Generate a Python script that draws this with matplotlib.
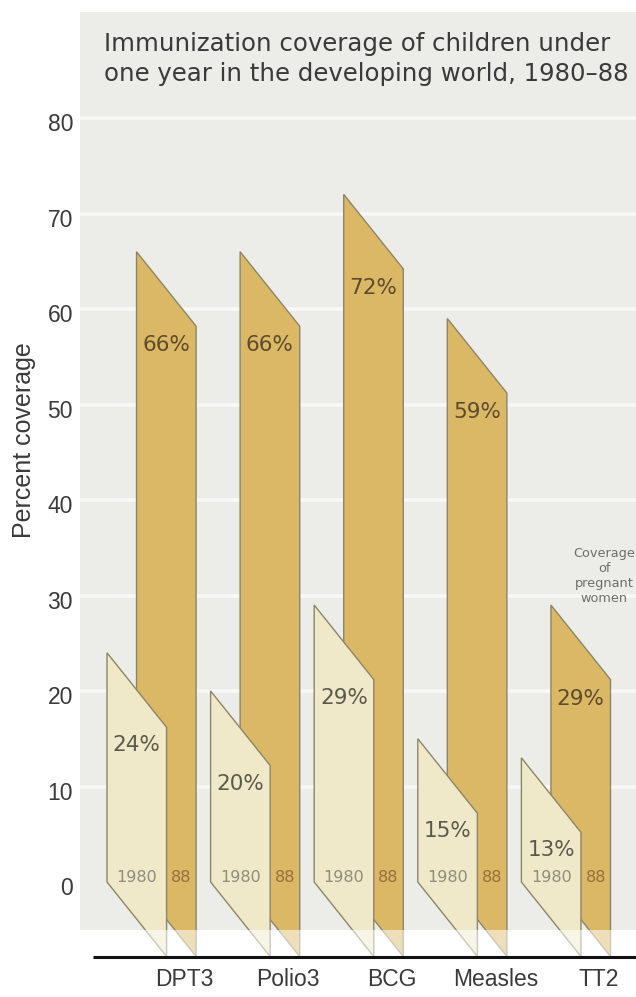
import matplotlib
matplotlib.use("Agg")
import matplotlib.pyplot as plt
from matplotlib.patches import Polygon, Rectangle
from matplotlib.transforms import ScaledTranslation

# ---- data -------------------------------------------------------------
vaccines = ["DPT3", "Polio3", "BCG", "Measles", "TT2"]
coverage_1980 = [24, 20, 29, 15, 13]
coverage_1988 = [66, 66, 72, 59, 29]
year_labels = ["1980", "88"]
y_ticks = [0, 10, 20, 30, 40, 50, 60, 70, 80]
title_lines = ["Immunization coverage of children under",
               "one year in the developing world, 1980\u201388"]
y_label = "Percent coverage"
note_text = "Coverage\nof\npregnant\nwomen"

# ---- styling ----------------------------------------------------------
C_PANEL = "#ecece9"
C_GRID = "#f8f8f6"
C_1980 = "#efe9c9"
C_1988 = "#dab866"
C_EDGE = "#8d8567"
C_TEXT = "#3a3a3a"
LABEL_FONT = ["DejaVu Sans"]
AXIS_FONT = ["Liberation Sans", "DejaVu Sans"]

BAR_W = 0.575      # width of each slanted panel (group spacing = 1)
OFFSET_88 = 0.285  # horizontal shift of the 1988 panel behind the 1980 one
DROP = 7.8         # vertical skew of each panel across its width

W, H = 636, 997
fig = plt.figure(figsize=(W / 100, H / 100), dpi=100)
fig.patch.set_facecolor("white")

# axes placed by pixel box; scale: 9.55 px per percentage point
px_left, px_right, px_top, px_bottom = 80, 636, 12, 956.5
px_per_unit = 9.55
px_group = 103.6
ax = fig.add_axes([px_left / W, 1 - px_bottom / H,
                   (px_right - px_left) / W, (px_bottom - px_top) / H])
y0 = -DROP
y1 = y0 + (px_bottom - px_top) / px_per_unit
x0 = (px_left - 107) / px_group
x1 = (px_right - 107) / px_group
ax.set_xlim(x0, x1)
ax.set_ylim(y0, y1)
ax.set_facecolor("none")
for s in ax.spines.values():
    s.set_visible(False)

# background panel and white gridlines
panel_bottom = -5.0
ax.add_patch(Rectangle((x0, panel_bottom), x1 - x0, y1 - panel_bottom,
                       facecolor=C_PANEL, edgecolor="none", zorder=0))
ax.hlines(y_ticks[1:], x0, x1, colors=C_GRID, linewidth=2.6, zorder=1)


def slanted_bar(left, value, color, z):
    pts = [(left, 0), (left, value),
           (left + BAR_W, value - DROP), (left + BAR_W, -DROP)]
    ax.add_patch(Polygon(pts, closed=True, facecolor=color,
                         edgecolor=C_EDGE, linewidth=1.0, zorder=z))


for i, (v80, v88) in enumerate(zip(coverage_1980, coverage_1988)):
    left80 = i
    left88 = i + OFFSET_88
    z = 3 + 3 * i
    slanted_bar(left88, v88, C_1988, z)
    slanted_bar(left80, v80, C_1980, z + 1)
    # value labels
    ax.text(left88 + BAR_W / 2, v88 - 9.8, f"{v88}%", ha="center",
            va="center", fontsize=15.5, color="#5e4b2c",
            family=LABEL_FONT, zorder=40)
    ax.text(left80 + BAR_W / 2, v80 - 9.7, f"{v80}%", ha="center",
            va="center", fontsize=15.5, color="#5a5a4c",
            family=LABEL_FONT, zorder=40)
    # year labels at the foot of each panel
    ax.text(left80 + BAR_W / 2, 0.5, year_labels[0], ha="center",
            va="center", fontsize=11.5, color="#8e8c7c",
            family=LABEL_FONT, zorder=40)
    ax.text((left80 + BAR_W + left88 + BAR_W) / 2, 0.5, year_labels[1],
            ha="center", va="center", fontsize=11.5, color="#98703c",
            family=LABEL_FONT, zorder=40)

# haze below the panel
ax.add_patch(Rectangle((x0, -DROP), x1 - x0, panel_bottom + DROP,
                       facecolor="white", alpha=0.55, edgecolor="none",
                       zorder=60))

# baseline
ax.plot([(93 - 107) / px_group, x1], [-DROP, -DROP], color="#111111",
        linewidth=2.2, solid_capstyle="butt", clip_on=False, zorder=70)

# ticks
ax.set_yticks(y_ticks)
ax.set_yticklabels([str(t) for t in y_ticks], family=AXIS_FONT,
                   fontsize=16.5, color=C_TEXT)
ax.tick_params(axis="y", length=0, pad=5)
shift = ScaledTranslation(0, -4 / 100, fig.dpi_scale_trans)
for lab in ax.get_yticklabels():
    lab.set_transform(lab.get_transform() + shift)

ax.set_xticks([i + 0.75 for i in range(len(vaccines))])
ax.set_xticklabels(vaccines, family=AXIS_FONT, fontsize=16.5, color=C_TEXT)
ax.tick_params(axis="x", length=0, pad=8)

# note above the TT2 bars
ax.text(4.80, 32.0, note_text, ha="center", va="center", fontsize=9.3,
        linespacing=1.2, color="#6e6e6a", family=LABEL_FONT, zorder=40)

# title and axis label
fig.text(104 / W, 1 - 51 / H, title_lines[0], ha="left", va="baseline",
         fontsize=17.6, color=C_TEXT, family=LABEL_FONT)
fig.text(104 / W, 1 - 81 / H, title_lines[1], ha="left", va="baseline",
         fontsize=17.6, color=C_TEXT, family=LABEL_FONT)
fig.text(24 / W, 1 - 440 / H, y_label, rotation=90, ha="center",
         va="center", fontsize=18, color=C_TEXT, family=AXIS_FONT)

fig.savefig("out.png", dpi=100)
